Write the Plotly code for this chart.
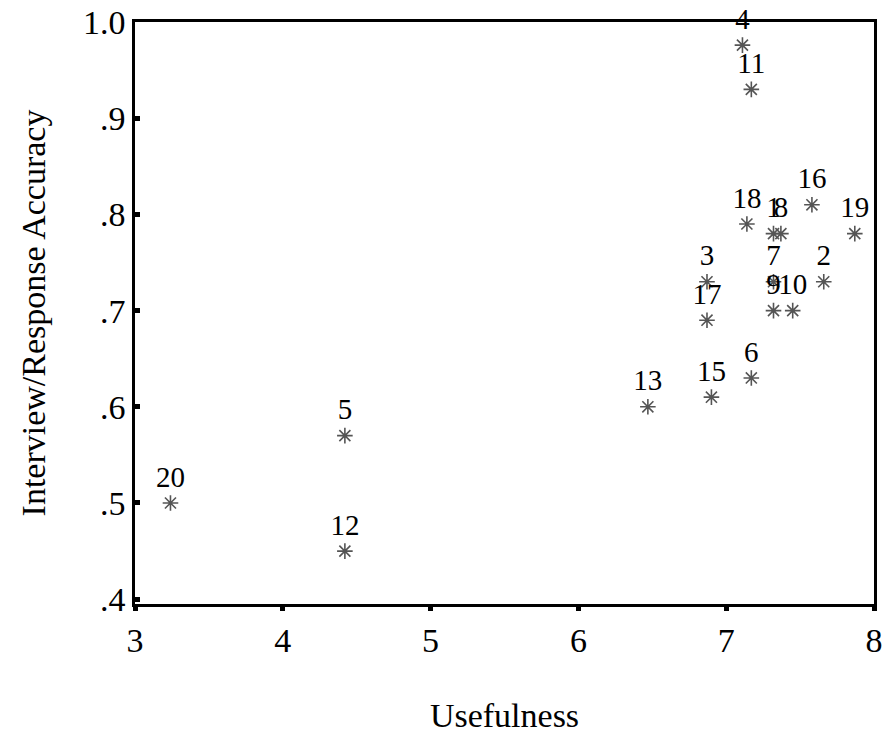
import plotly.graph_objects as go

case_ids = ["1", "2", "3", "4", "5", "6", "7", "8", "9", "10",
            "11", "12", "13", "15", "16", "17", "18", "19", "20"]
usefulness = [7.32, 7.66, 6.87, 7.11, 4.42, 7.17, 7.32, 7.37, 7.32, 7.45,
              7.17, 4.42, 6.47, 6.90, 7.58, 6.87, 7.14, 7.87, 3.24]
accuracy = [0.78, 0.73, 0.73, 0.976, 0.57, 0.63, 0.73, 0.78, 0.70, 0.70,
            0.93, 0.45, 0.60, 0.61, 0.81, 0.69, 0.79, 0.78, 0.50]

x_ticks = [3, 4, 5, 6, 7, 8]
y_ticks = [0.4, 0.5, 0.6, 0.7, 0.8, 0.9, 1.0]
y_tick_text = [".4", ".5", ".6", ".7", ".8", ".9", "1.0"]

font_family = "Liberation Serif, Times New Roman, serif"

fig = go.Figure()
fig.add_trace(go.Scatter(
    x=usefulness, y=accuracy, mode="markers+text",
    text=case_ids, textposition="top center",
    textfont=dict(family=font_family, size=29, color="black"),
    marker=dict(symbol="asterisk-open", size=13,
                line=dict(color="#555555", width=1.6), color="#555555"),
    showlegend=False, cliponaxis=False,
))

fig.update_layout(
    width=884, height=736,
    margin=dict(l=135, r=10, t=22, b=132),
    paper_bgcolor="white", plot_bgcolor="white",
    font=dict(family=font_family, size=34, color="black"),
)
fig.update_xaxes(
    range=[3, 8], tickvals=x_ticks, ticktext=[str(v) for v in x_ticks],
    showgrid=False, zeroline=False, automargin=False,
    showline=True, linecolor="black", linewidth=2.5, mirror=True,
    ticks="outside", ticklen=4, tickwidth=5, tickcolor="black",
    tickfont=dict(family=font_family, size=34, color="black"),
    title=dict(text="Usefulness", standoff=46,
               font=dict(family=font_family, size=34, color="black")),
)
fig.update_yaxes(
    range=[0.395, 1.0], tickvals=y_ticks, ticktext=y_tick_text,
    showgrid=False, zeroline=False, automargin=False,
    showline=True, linecolor="black", linewidth=2.5, mirror=True,
    ticks="inside", ticklen=5, tickwidth=5, tickcolor="black",
    tickfont=dict(family=font_family, size=34, color="black"),
    title=dict(text="Interview/Response Accuracy", standoff=28,
               font=dict(family=font_family, size=34, color="black")),
)

fig.write_html("out.html")
